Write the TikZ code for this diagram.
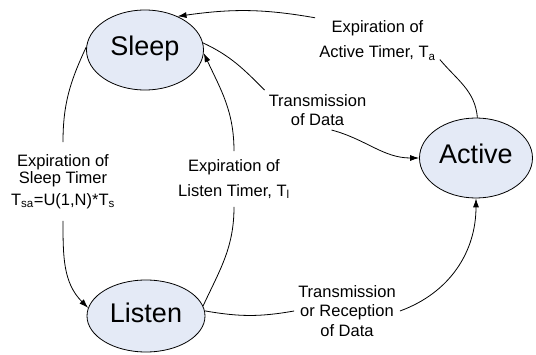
\documentclass[tikz,border=0pt]{standalone}
\usepackage{fontspec}
\setmainfont{Liberation Sans}
\usetikzlibrary{arrows.meta, shapes.geometric}
\definecolor{statefill}{RGB}{228,234,246}

\begin{document}
\begin{tikzpicture}[x=1pt, y=1pt,
    state/.style={draw, ellipse, fill=statefill, line width=0.8pt, inner sep=0pt,
        font=\fontsize{27}{30}\selectfont, text height=19.5pt, text depth=7.5pt},
    event/.style={align=center, inner sep=4pt, font=\fontsize{16.5}{19.5}\selectfont},
    link/.style={line width=0.8pt},
    trans/.style={line width=0.8pt, -{Latex[length=9pt, width=6pt]}}]
    \useasboundingbox (0,0) rectangle (536,354);

    % states
    \node[state, minimum width=117pt, minimum height=80pt] (sleep) at (145,304) {Sleep};
    \node[state, minimum width=118pt, minimum height=72pt] (listen) at (146,38) {Listen};
    \node[state, minimum width=113pt, minimum height=80pt] (active) at (476,196) {Active};

    % events
    \node[event, inner ysep=12pt] (sleeptimer) at (63,172.5)
        {Expiration of\\[-2.5pt] Sleep Timer\\[2.5pt] T\textsubscript{sa}=U(1,N)*T\textsubscript{s}};
    \node[event, inner ysep=8pt] (listentimer) at (234,175)
        {Expiration of\\[5.5pt] Listen Timer, T\textsubscript{l}};
    \node[event] (activetimer) at (377.5,313.5)
        {Expiration of\\[5.5pt] Active Timer, T\textsubscript{a}};
    \node[event] (txdata) at (317.5,244) {Transmission\\ of Data};
    \node[event] (txrxdata) at (347,43) {Transmission\\ or Reception\\ of Data};

    % transitions
    \draw[link] (active.88) to[out=95, in=-50] (activetimer.-17);
    \draw[trans] (activetimer.160) to[out=170, in=8] (sleep.46);

    \draw[link] (sleep.7) to[out=-25, in=135] (txdata.north west);
    \draw[trans] (txdata.-55) to[out=-15, in=180] (active.west);

    \draw[link] (listen.10) to[out=65, in=-90] (listentimer.south);
    \draw[trans] (listentimer.north) to[out=90, in=-65] (sleep.-3);

    \draw[link] (sleep.177) to[out=-115, in=90] (sleeptimer.north);
    \draw[trans] (sleeptimer.south) to[out=-90, in=135] (listen.172);

    \draw[link] (listen.5) to[out=-10, in=190] (txrxdata.west);
    \draw[trans] (txrxdata.east) to[out=20, in=-90] (active.south);
\end{tikzpicture}
\end{document}
